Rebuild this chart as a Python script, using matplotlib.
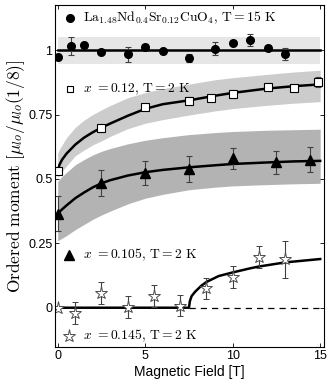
import numpy as np
import matplotlib
matplotlib.use('Agg')
import matplotlib.pyplot as plt

plt.rcParams['mathtext.fontset'] = 'cm'
plt.rcParams['font.family'] = ['Liberation Sans', 'DejaVu Sans']

# La1.48Nd0.4Sr0.12CuO4, T=15 K (circles)
H_lnsco = [0, 0.75, 1.5, 2.5, 4, 5, 6, 7.5, 9, 10, 11, 12, 13]
m_lnsco = [0.974, 1.017, 1.019, 0.993, 0.983, 1.013, 0.995, 0.970, 1.006, 1.028, 1.039, 1.010, 0.984]
e_lnsco = [0.01, 0.035, 0.01, 0.01, 0.029, 0.01, 0.01, 0.015, 0.026, 0.01, 0.023, 0.01, 0.023]
band_lnsco = [0.945, 1.052]

# x=0.12, T=2 K (squares)
H_x12 = [0, 2.5, 5, 7.5, 8.75, 10, 12, 13.5, 14.9]
m_x12 = [0.529, 0.699, 0.780, 0.803, 0.815, 0.830, 0.858, 0.851, 0.875]
e_x12 = [0.01, 0.016, 0.01, 0.015, 0.01, 0.016, 0.016, 0.01, 0.02]

# x=0.105, T=2 K (triangles)
H_x105 = [0, 2.5, 5, 7.5, 10, 12.5, 14.4]
m_x105 = [0.365, 0.484, 0.523, 0.538, 0.580, 0.564, 0.575]
e_x105 = [0.069, 0.05, 0.045, 0.05, 0.04, 0.043, 0.047]

# x=0.145, T=2 K (stars)
H_x145 = [0, 1, 2.5, 4, 5.5, 7, 8.5, 10, 11.5, 13]
m_x145 = [-0.002, -0.022, 0.058, 0.002, 0.045, 0.008, 0.075, 0.118, 0.198, 0.188]
e_x145 = [0.0, 0.043, 0.042, 0.043, 0.042, 0.042, 0.042, 0.043, 0.042, 0.071]

# fitted curves and shaded bands
H_fit = [0, 0.1, 0.25, 0.5, 1, 1.5, 2, 2.5, 3, 4, 5, 6, 7.5, 9, 10, 12, 13.5, 15]
fit_x12 = [0.53, 0.555, 0.575, 0.598, 0.633, 0.66, 0.681, 0.699, 0.715, 0.745, 0.772, 0.79, 0.805, 0.823, 0.834, 0.851, 0.860, 0.867]
up_x12 = [0.60, 0.615, 0.632, 0.66, 0.70, 0.728, 0.75, 0.768, 0.785, 0.815, 0.835, 0.85, 0.868, 0.885, 0.893, 0.906, 0.915, 0.922]
lo_x12 = [0.505, 0.515, 0.53, 0.55, 0.59, 0.612, 0.632, 0.648, 0.665, 0.695, 0.716, 0.73, 0.748, 0.764, 0.773, 0.786, 0.794, 0.80]
fit_x105 = [0.365, 0.372, 0.382, 0.397, 0.425, 0.447, 0.467, 0.483, 0.495, 0.513, 0.526, 0.535, 0.545, 0.553, 0.558, 0.564, 0.568, 0.570]
up_x105 = [0.49, 0.498, 0.51, 0.525, 0.555, 0.575, 0.593, 0.607, 0.618, 0.636, 0.65, 0.66, 0.672, 0.68, 0.684, 0.689, 0.691, 0.693]
lo_x105 = [0.26, 0.264, 0.27, 0.28, 0.303, 0.323, 0.343, 0.36, 0.375, 0.403, 0.425, 0.44, 0.458, 0.468, 0.473, 0.478, 0.481, 0.483]

H_fit145 = [0, 7.5, 7.55, 7.65, 7.85, 8.2, 8.5, 9.2, 10, 11, 11.5, 13, 15]
fit_x145 = [0, 0, 0.025, 0.045, 0.062, 0.085, 0.10, 0.123, 0.137, 0.153, 0.160, 0.176, 0.189]

xticks = [0, 5, 10, 15]
yticks = [0, 0.25, 0.5, 0.75, 1]
ytick_labels = ['0', '0.25', '0.5', '0.75', '1']

fig = plt.figure(figsize=(3.32, 3.87), dpi=100)
ax = fig.add_axes([0.166, 0.103, 0.810, 0.884])

# bands
ax.fill_between([0, 15], band_lnsco[0], band_lnsco[1], color='0.9', lw=0)
ax.fill_between(H_fit, lo_x12, up_x12, color='0.8', lw=0)
ax.fill_between(H_fit, lo_x105, up_x105, color='0.7', lw=0)

# fit lines
ax.plot([0, 15], [1, 1], color='k', lw=1.8)
ax.plot(H_fit, fit_x12, color='k', lw=1.8)
ax.plot(H_fit, fit_x105, color='k', lw=1.8)
ax.plot(H_fit145, fit_x145, color='k', lw=1.8)
ax.plot([7.5, 15.3], [0, 0], color='k', lw=0.9, ls=(0, (5, 4)))

eb = dict(ecolor='0.25', elinewidth=0.8, capsize=2, capthick=0.8, ls='none')
ax.errorbar(H_lnsco, m_lnsco, yerr=e_lnsco, marker='o', ms=5.5, mfc='k', mec='k', **eb)
ax.errorbar(H_x12, m_x12, yerr=e_x12, marker='s', ms=5.5, mfc='w', mec='k', mew=0.8, **eb)
ax.errorbar(H_x105, m_x105, yerr=e_x105, marker='^', ms=7, mfc='k', mec='k', **eb)
ax.errorbar(H_x145, m_x145, yerr=e_x145, marker='*', ms=9.5, mfc='w', mec='0.3', mew=0.7, **eb)

# in-plot labels
tr = ax.transAxes
fs = 9.8
ax.plot([0.056], [0.962], 'o', ms=5.5, color='k', transform=tr)
ax.text(0.104, 0.962, r'$\mathrm{La}_{1.48}\mathrm{Nd}_{0.4}\mathrm{Sr}_{0.12}\mathrm{CuO}_4,\,\mathrm{T{=}15\ K}$',
        transform=tr, fontsize=fs, va='center')
ax.plot([0.056], [0.754], 's', ms=5, mfc='w', mec='k', mew=0.8, transform=tr)
ax.text(0.104, 0.754, r'$x\ {=}0.12,\,\mathrm{T{=}2\ K}$', transform=tr, fontsize=fs, va='center')
ax.plot([0.050], [0.269], '^', ms=7, color='k', transform=tr)
ax.text(0.104, 0.269, r'$x\ {=}0.105,\,\mathrm{T{=}2\ K}$', transform=tr, fontsize=fs, va='center')
ax.plot([0.050], [0.032], '*', ms=9.5, mfc='w', mec='0.3', mew=0.7, transform=tr)
ax.text(0.104, 0.032, r'$x\ {=}0.145,\,\mathrm{T{=}2\ K}$', transform=tr, fontsize=fs, va='center')

ax.set_xlim(-0.15, 15.22)
ax.set_ylim(-0.153, 1.175)
ax.set_xticks(xticks)
ax.set_yticks(yticks)
ax.set_yticklabels(ytick_labels)
ax.tick_params(direction='in', top=True, right=True, length=3, width=0.6, labelsize=9, pad=2)
for s in ax.spines.values():
    s.set_linewidth(0.8)

ax.set_xlabel('Magnetic Field [T]', fontsize=10, labelpad=2)
ax.set_ylabel(r'$\mathrm{Ordered\ moment}\ [\mu_{lo}/\mu_{lo}(1/8)]$', fontsize=12.5, labelpad=1)

plt.savefig('out.png', dpi=100)
plt.close()
